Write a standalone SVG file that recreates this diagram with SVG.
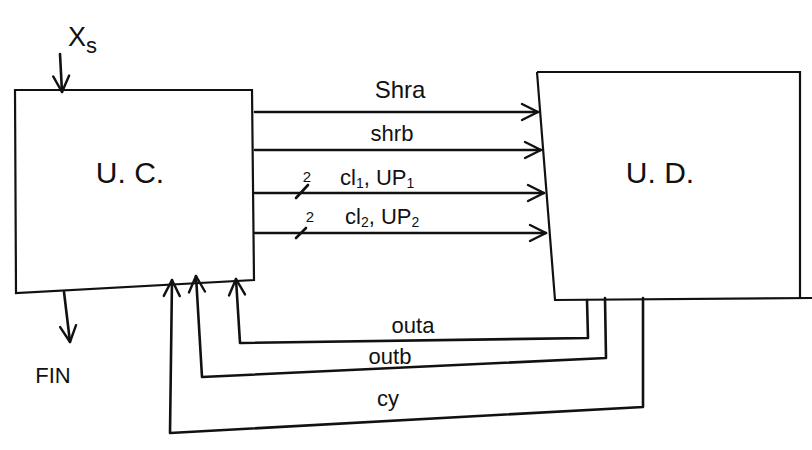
<svg xmlns="http://www.w3.org/2000/svg" width="812" height="450" viewBox="0 0 812 450">
<style>
.ln{fill:none;stroke:#111;stroke-width:2.6;stroke-linecap:round;stroke-linejoin:round}
.bx{fill:none;stroke:#111;stroke-width:2.2}
.t{font-family:"Liberation Sans",Arial,sans-serif;fill:#111}
</style>
<defs>
<marker id="ah" markerWidth="22" markerHeight="22" refX="20" refY="11" orient="auto" markerUnits="userSpaceOnUse">
<polyline points="4,3 20,11 4,19" fill="none" stroke="#111" stroke-width="2.4" stroke-linecap="round" stroke-linejoin="round"/>
</marker>
</defs>
<rect width="812" height="450" fill="#fff"/>
<g id="uc">
<path class="bx" d="M15,90 L252,90 L254,280 L16,293 Z"/>
<text class="t" x="130" y="183" font-size="30" text-anchor="middle">U. C.</text>
</g>
<g id="ud">
<path class="bx" d="M537,72 L800,72 L800,298 M537,72 L555,300 L812,298"/>
<text class="t" x="660" y="183" font-size="30" text-anchor="middle">U. D.</text>
</g>
<g id="xs">
<text class="t" x="68" y="46" font-size="27">X<tspan font-size="22" dy="7">s</tspan></text>
</g>
<g id="fin">
<text class="t" x="53" y="383" font-size="22" text-anchor="middle">FIN</text>
</g>
<g id="connectors">
<line class="ln" x1="60" y1="54" x2="62" y2="92" marker-end="url(#ah)"/>
<line class="ln" x1="64" y1="292" x2="70" y2="342" marker-end="url(#ah)"/>
<line class="ln" x1="255" y1="112" x2="538" y2="112" marker-end="url(#ah)"/>
<line class="ln" x1="255" y1="150" x2="541" y2="150" marker-end="url(#ah)"/>
<line class="ln" x1="255" y1="193" x2="544" y2="193" marker-end="url(#ah)"/>
<line class="ln" x1="255" y1="233" x2="546" y2="233" marker-end="url(#ah)"/>
<line class="ln" x1="296" y1="198" x2="308" y2="185"/>
<line class="ln" x1="296" y1="238" x2="306" y2="228"/>
<polyline class="ln" points="587,300 588,338 240,343 236,279" marker-end="url(#ah)"/>
<polyline class="ln" points="605,298 606,358 202,377 196,276" marker-end="url(#ah)"/>
<polyline class="ln" points="643,298 643,407 170,433 172,280" marker-end="url(#ah)"/>
</g>
<g id="labels">
<text class="t" x="400" y="98" font-size="24" text-anchor="middle">Shra</text>
<text class="t" x="392" y="141" font-size="22" text-anchor="middle">shrb</text>
<text class="t" x="307" y="182" font-size="15" text-anchor="middle">2</text>
<text class="t" x="310" y="222" font-size="15" text-anchor="middle">2</text>
<text class="t" x="340" y="185" font-size="22">cl<tspan font-size="14" dy="3">1</tspan><tspan dy="-3">, UP</tspan><tspan font-size="14" dy="3">1</tspan></text>
<text class="t" x="345" y="224" font-size="22">cl<tspan font-size="14" dy="3">2</tspan><tspan dy="-3">, UP</tspan><tspan font-size="14" dy="3">2</tspan></text>
<text class="t" x="413" y="333" font-size="22" text-anchor="middle">outa</text>
<text class="t" x="390" y="364" font-size="22" text-anchor="middle">outb</text>
<text class="t" x="388" y="406" font-size="22" text-anchor="middle">cy</text>
</g>
</svg>
